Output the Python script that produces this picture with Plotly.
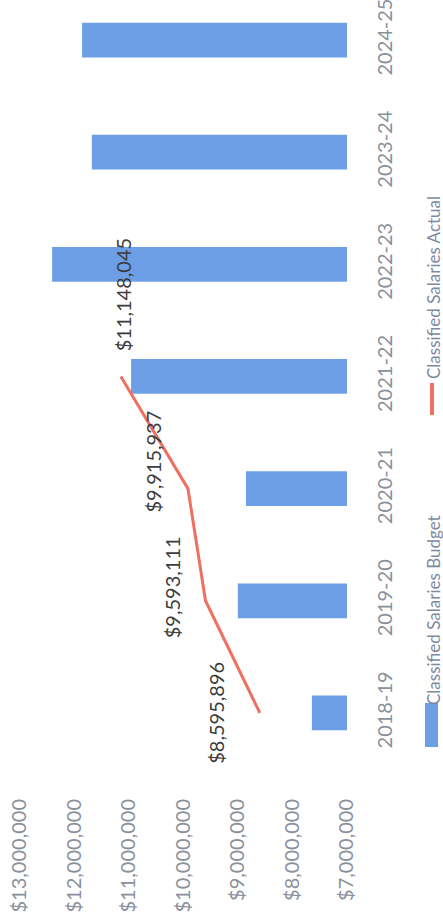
import plotly.graph_objects as go

categories = ["2018-19", "2019-20", "2020-21", "2021-22", "2022-23", "2023-24", "2024-25"]
budget = [7.64e6, 9.0e6, 8.85e6, 10.96e6, 12.41e6, 11.68e6, 11.86e6]
actual_cats = ["2018-19", "2019-20", "2020-21", "2021-22"]
actual = [8595896, 9593111, 9915937, 11148045]
value_ticks = [7e6, 8e6, 9e6, 10e6, 11e6, 12e6, 13e6]
value_tick_text = ["$7,000,000", "$8,000,000", "$9,000,000", "$10,000,000",
                   "$11,000,000", "$12,000,000", "$13,000,000"]
# label offsets (px) relative to each actual point
label_dx = [-44, -34, -35, 3]
label_dy = [0, 13, 27, 82]

FONT = "Lato"
TICK_COLOR = "#8a909c"
BAR_COLOR = "#6c9fe6"
LINE_COLOR = "#ef6f61"

W, H = 443, 924
PW = 347.0   # plot width (px)
PH = 780.0   # plot height (px)

fig = go.Figure()
fig.add_trace(go.Bar(
    y=categories, x=budget, orientation="h", width=0.31,
    marker=dict(color=BAR_COLOR, line=dict(width=0)),
    name="Classified Salaries Budget", showlegend=False,
))
fig.add_trace(go.Scatter(
    y=actual_cats, x=actual, mode="lines",
    line=dict(color=LINE_COLOR, width=3),
    name="Classified Salaries Actual", showlegend=False,
))

for c, v, dx, dy in zip(actual_cats, actual, label_dx, label_dy):
    fig.add_annotation(
        x=v, y=c, xref="x", yref="y", text=f"${v:,.0f}",
        textangle=-90, showarrow=False, xshift=dx, yshift=dy,
        font=dict(family=FONT, size=20, color="#3c3c3c"),
        xanchor="center", yanchor="middle",
    )

# legend (rotated, drawn manually); positions given in page pixels
def px_x(p):
    return p / PW
def px_y(p):
    return (PH - p) / PH

fig.add_shape(type="rect", xref="paper", yref="paper",
              x0=px_x(425), x1=px_x(438), y0=px_y(747), y1=px_y(703),
              fillcolor=BAR_COLOR, line=dict(width=0))
fig.add_shape(type="line", xref="paper", yref="paper",
              x0=px_x(432), x1=px_x(432), y0=px_y(415), y1=px_y(383),
              line=dict(color=LINE_COLOR, width=4))
fig.add_annotation(x=px_x(433), y=px_y(610), xref="paper", yref="paper",
                   text="Classified Salaries Budget", textangle=-90, showarrow=False,
                   font=dict(family=FONT, size=17, color="#7f8aa0"),
                   xanchor="center", yanchor="middle")
fig.add_annotation(x=px_x(433), y=px_y(287), xref="paper", yref="paper",
                   text="Classified Salaries Actual", textangle=-90, showarrow=False,
                   font=dict(family=FONT, size=17, color="#7f8aa0"),
                   xanchor="center", yanchor="middle")

# axis ranges: $13M label centred at x=20, $7M at x=347
x_left = 13e6 + 20 / ((PW - 20) / 6e6)
# categories: 2018-19 centred at y=713, spacing 112 px
y_lo = -(PH - 713) / 112.0
y_hi = 6 + 40 / 112.0

fig.update_layout(
    width=W, height=H,
    margin=dict(l=0, r=W - PW, t=0, b=H - PH, autoexpand=False),
    paper_bgcolor="white", plot_bgcolor="white",
    font=dict(family=FONT),
    showlegend=False,
)
fig.update_xaxes(
    range=[x_left, 6.995e6], tickvals=value_ticks, ticktext=value_tick_text,
    tickangle=-90, automargin=False, ticklabeloverflow="allow",
    showgrid=False, zeroline=False, showline=False,
    ticks="outside", ticklen=10, tickcolor="rgba(0,0,0,0)",
    tickfont=dict(family=FONT, size=20, color=TICK_COLOR),
)
fig.update_yaxes(
    type="category", categoryorder="array", categoryarray=categories,
    range=[y_lo, y_hi], side="right", tickangle=-90, automargin=False,
    ticklabeloverflow="allow",
    showgrid=False, zeroline=False, showline=False,
    ticks="outside", ticklen=20, tickcolor="rgba(0,0,0,0)",
    tickfont=dict(family=FONT, size=20, color=TICK_COLOR),
)

fig.write_html(
    "out.html",
    config={"displayModeBar": False},
    post_script="document.body.style.margin='0';document.body.style.overflow='hidden';",
)
